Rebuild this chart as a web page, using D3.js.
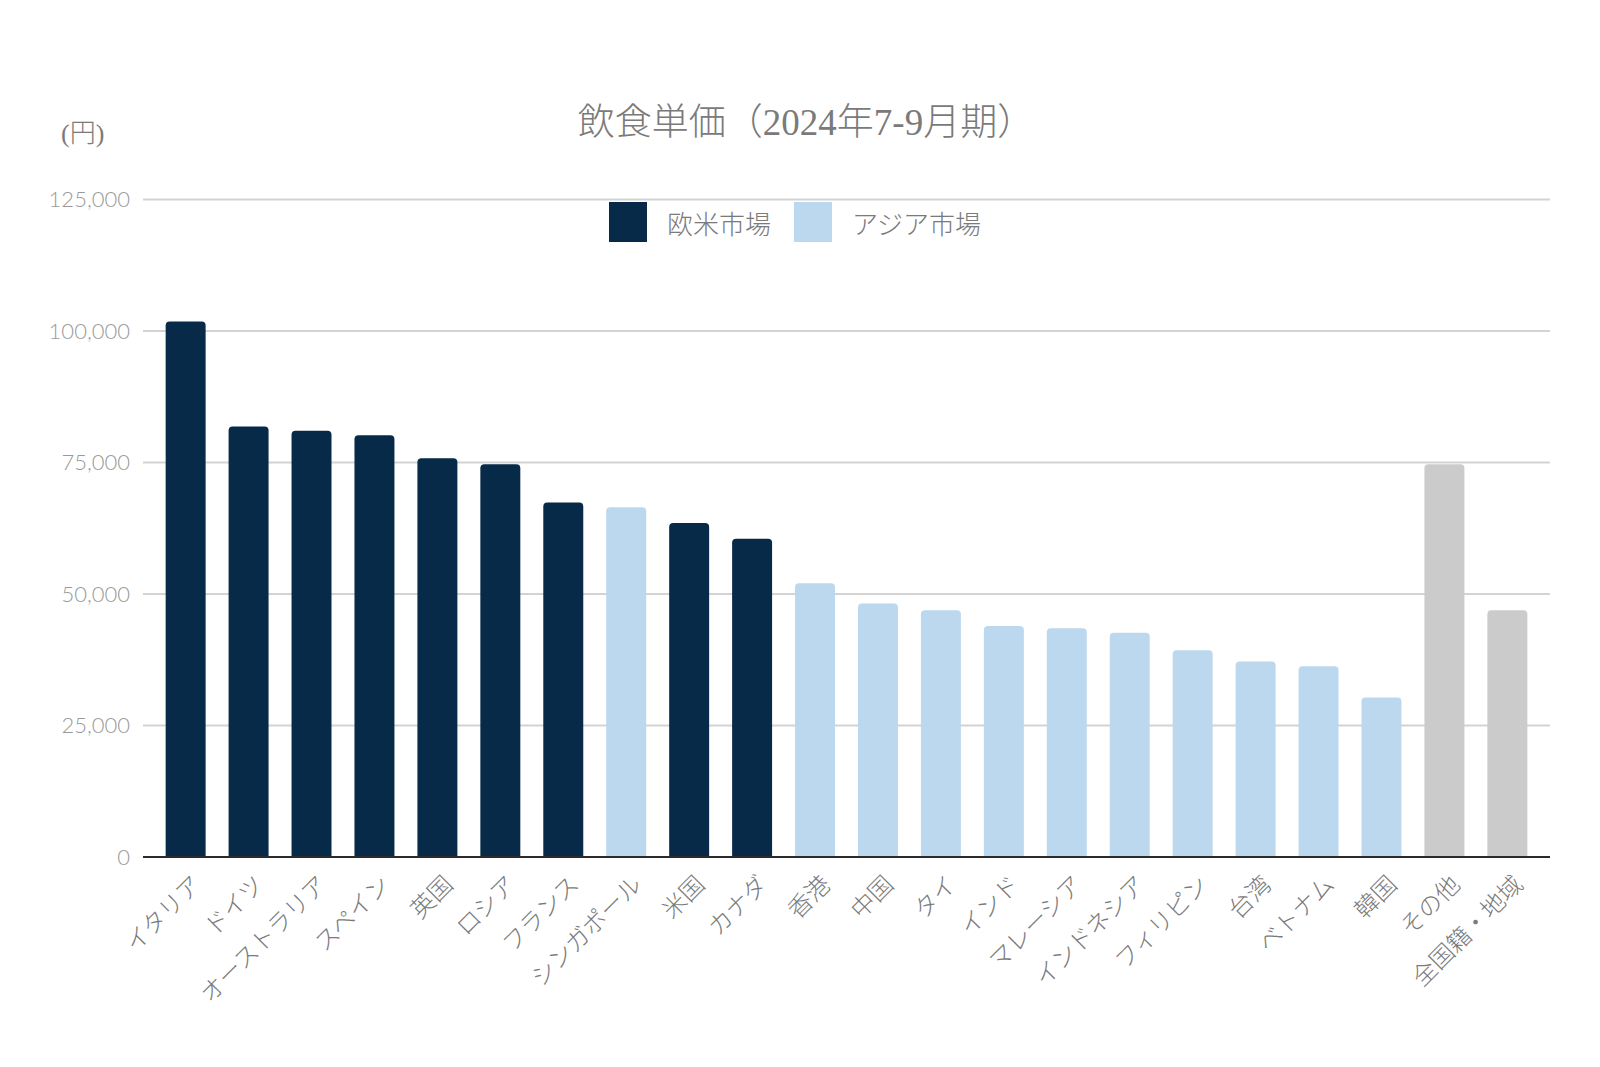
<!DOCTYPE html>
<html><head><meta charset="utf-8">
<script src="https://cdn.jsdelivr.net/npm/d3@7"></script>
<style>
body{margin:0;background:#fff;}
svg{display:block;}
</style></head>
<body>
<svg id="chart" width="1600" height="1067"></svg>
<script>
const categories = ["イタリア","ドイツ","オーストラリア","スペイン","英国","ロシア","フランス","シンガポール","米国","カナダ","香港","中国","タイ","インド","マレーシア","インドネシア","フィリピン","台湾","ベトナム","韓国","その他","全国籍・地域"];
const values = [101800,81850,81050,80200,75800,74650,67400,66500,63500,60500,52050,48200,46900,43900,43500,42650,39300,37150,36250,30300,74650,46900];
const groups = ["欧米","欧米","欧米","欧米","欧米","欧米","欧米","アジア","欧米","欧米","アジア","アジア","アジア","アジア","アジア","アジア","アジア","アジア","アジア","アジア","その他","その他"];
const yTicks = [0,25000,50000,75000,100000,125000];
const legendLabels = ["欧米市場","アジア市場"];
const titleText = "飲食単価（2024年7-9月期）";
const unitText = "(円)";

const colorMap = {"欧米":"#072a48","アジア":"#bcd8ee","その他":"#cbcbcb"};

const svg = d3.select("#chart");
const plotLeft = 143, plotRight = 1550, plotTop = 199.5, plotBottom = 857;

const x = d3.scaleBand().domain(categories).range([plotLeft, plotRight]).paddingInner(0.365).paddingOuter(0.36);
const y = d3.scaleLinear().domain([0,125000]).range([plotBottom, plotTop]);

// gridlines
svg.append("g").selectAll("line").data(yTicks.filter(d=>d>0)).join("line")
  .attr("x1", plotLeft).attr("x2", plotRight)
  .attr("y1", d=>y(d)).attr("y2", d=>y(d))
  .attr("stroke", "#d3d3d3").attr("stroke-width", 2);

// y tick labels
svg.append("g").selectAll("text").data(yTicks).join("text")
  .attr("x", 130).attr("y", d=>y(d)).attr("dy","0.35em")
  .attr("text-anchor","end")
  .attr("font-family","Lato, 'Open Sans', sans-serif").attr("font-weight",300)
  .attr("font-size", 22).attr("fill","#9a9a9a")
  .text(d=>d3.format(",")(d));

// bars with rounded top corners
function barPath(x0, w, yTop, yBot, r){
  r = Math.min(r, w/2, (yBot-yTop));
  return `M${x0},${yBot} L${x0},${yTop+r} Q${x0},${yTop} ${x0+r},${yTop} L${x0+w-r},${yTop} Q${x0+w},${yTop} ${x0+w},${yTop+r} L${x0+w},${yBot} Z`;
}
svg.append("g").selectAll("path").data(categories).join("path")
  .attr("d", (c,i)=>barPath(x(c), x.bandwidth(), y(values[i]), y(0), 4))
  .attr("fill", (c,i)=>colorMap[groups[i]]);

// baseline
svg.append("line").attr("x1", plotLeft).attr("x2", plotRight).attr("y1", y(0)).attr("y2", y(0))
  .attr("stroke","#2b2b2b").attr("stroke-width",2);

// x labels
svg.append("g").selectAll("text").data(categories).join("text")
  .attr("transform", c=>`translate(${x(c)+x.bandwidth()/2+17},${886}) rotate(-45)`)
  .attr("text-anchor","end")
  .attr("font-family","'Noto Sans CJK JP', sans-serif").attr("font-weight",300)
  .attr("font-size", 24).attr("fill","#7a7a7a")
  .text(c=>c);

// title
svg.append("text").attr("x", 806).attr("y", 135).attr("text-anchor","middle")
  .attr("font-family","'Liberation Serif','Noto Sans CJK JP', serif").attr("font-weight",300)
  .attr("font-size", 37).attr("fill","#7a7a7a").text(titleText);

// unit
svg.append("text").attr("x", 61).attr("y", 142)
  .attr("font-family","'Liberation Serif','Noto Sans CJK JP', serif").attr("font-weight",300)
  .attr("font-size", 26).attr("fill","#7a7a7a").text(unitText);

// legend
const legendItems = [{label:legendLabels[0], color:colorMap["欧米"], x:609},{label:legendLabels[1], color:colorMap["アジア"], x:794}];
const lg = svg.append("g").selectAll("g").data(legendItems).join("g")
  .attr("transform", d=>`translate(${d.x},202)`);
lg.append("rect").attr("width",38).attr("height",40).attr("fill", d=>d.color);
lg.append("text").attr("x",58).attr("y",23).attr("dy","0.35em")
  .attr("font-family","'Noto Sans CJK JP', sans-serif").attr("font-weight",300)
  .attr("font-size",26).attr("fill","#7a7a7a").text(d=>d.label);
</script>
</body></html>
